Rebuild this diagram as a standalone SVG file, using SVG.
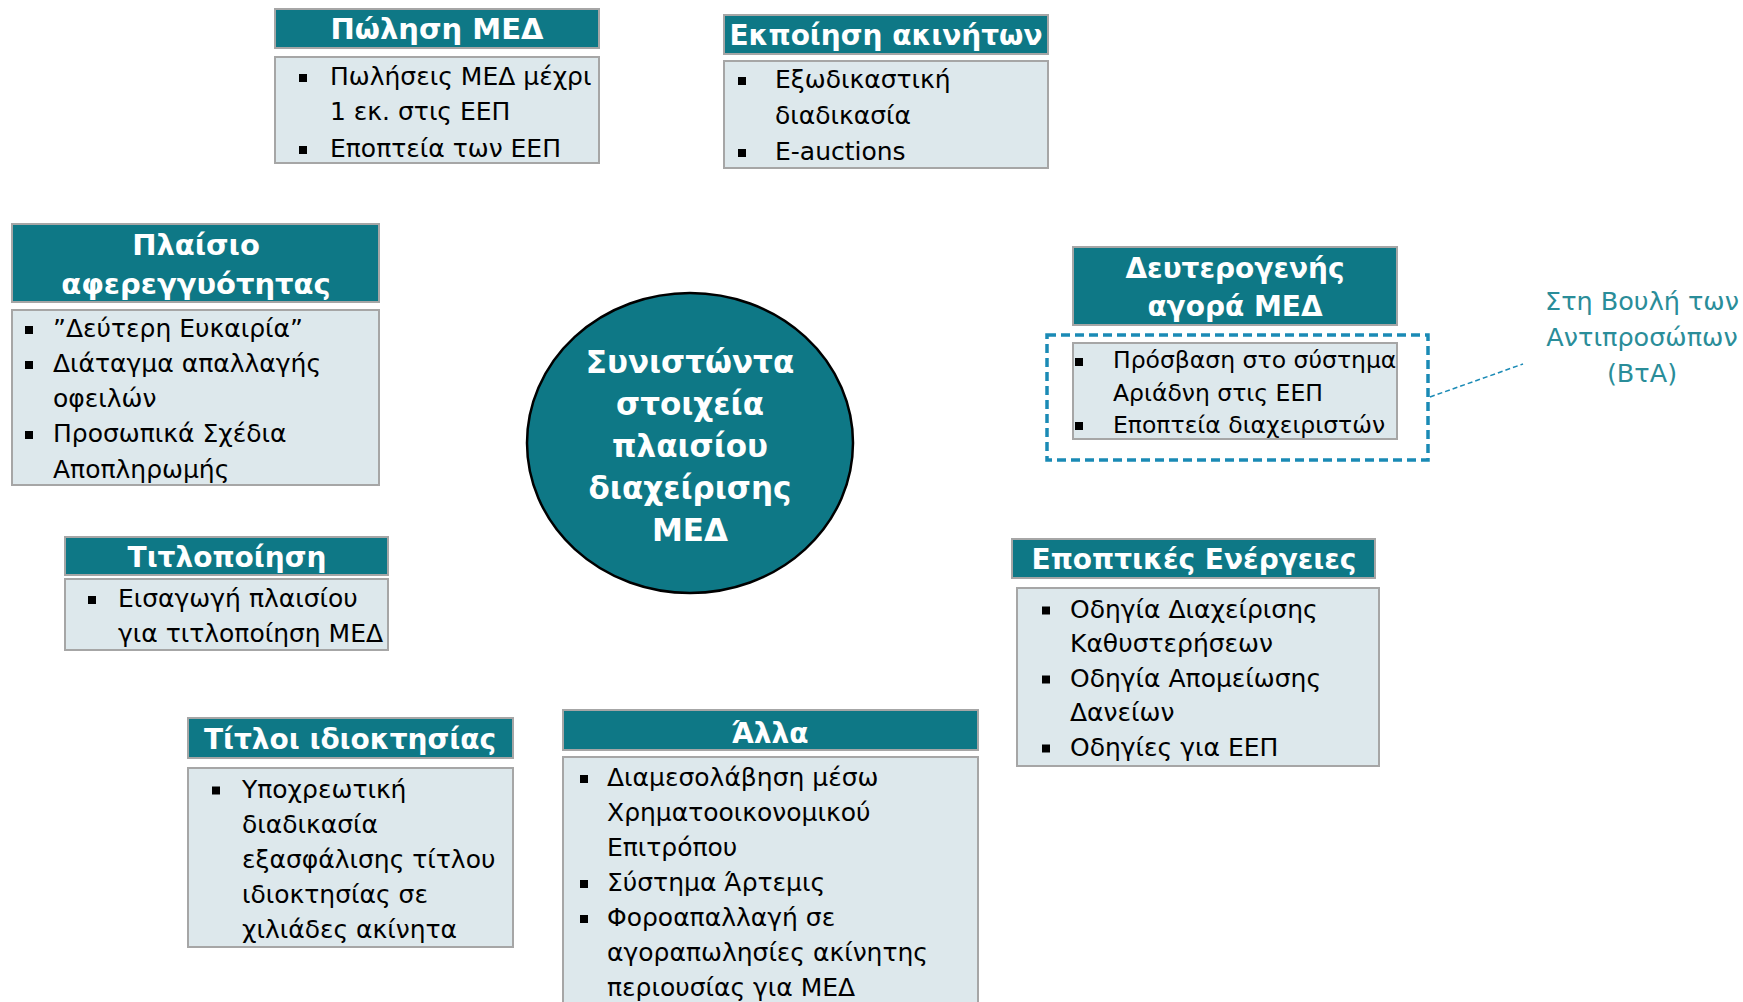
<svg xmlns="http://www.w3.org/2000/svg" width="1743" height="1002" viewBox="0 0 1743 1002">
<style>
.tb{fill:#0e7886;stroke:#a6a6a6;stroke-width:2}
.bb{fill:#dde8ec;stroke:#a6a6a6;stroke-width:2}
.tt{font-family:"DejaVu Sans",sans-serif;font-weight:bold;fill:#ffffff;font-size:28px;text-anchor:middle}
.tl{font-size:29px}
.bt{font-family:"DejaVu Sans",sans-serif;font-size:25px;fill:#000000}
.st{font-size:23.5px}
.ct{font-family:"DejaVu Sans",sans-serif;font-weight:bold;fill:#ffffff;font-size:31px;text-anchor:middle}
.cl{font-family:"DejaVu Sans",sans-serif;font-size:25.5px;fill:#2a8d99;text-anchor:middle}
.bu{fill:#000000}
</style>
<rect width="1743" height="1002" fill="#ffffff"/>

<g id="connectors">
<line x1="1430" y1="397" x2="1523" y2="364" stroke="#1a8ab5" stroke-width="1.5" stroke-dasharray="5,3"/>
</g>

<g id="center">
<ellipse cx="690" cy="443" rx="163" ry="150" fill="#0e7886" stroke="#000000" stroke-width="2.5"/>
<text class="ct" x="690" y="373">Συνιστώντα</text>
<text class="ct" x="690" y="415">στοιχεία</text>
<text class="ct" x="690" y="457">πλαισίου</text>
<text class="ct" x="690" y="499">διαχείρισης</text>
<text class="ct" x="690" y="541">ΜΕΔ</text>
</g>

<g id="polisi">
<rect class="tb" x="275" y="9" width="324" height="39"/>
<text class="tt tl" x="437" y="39">Πώληση ΜΕΔ</text>
<rect class="bb" x="275" y="57" width="324" height="106"/>
<rect class="bu" x="299" y="74" width="8" height="8"/>
<rect class="bu" x="299" y="146" width="8" height="8"/>
<text class="bt" x="330" y="85">Πωλήσεις ΜΕΔ μέχρι</text>
<text class="bt" x="330" y="120">1 εκ. στις ΕΕΠ</text>
<text class="bt" x="330" y="157">Εποπτεία των ΕΕΠ</text>
</g>

<g id="ekpoiisi">
<rect class="tb" x="724" y="15" width="324" height="39"/>
<text class="tt" x="886" y="45">Εκποίηση ακινήτων</text>
<rect class="bb" x="724" y="61" width="324" height="107"/>
<rect class="bu" x="738" y="77" width="8" height="8"/>
<rect class="bu" x="738" y="149" width="8" height="8"/>
<text class="bt" x="775" y="88">Εξωδικαστική</text>
<text class="bt" x="775" y="124">διαδικασία</text>
<text class="bt" x="775" y="160">E-auctions</text>
</g>

<g id="afereggyotita">
<rect class="tb" x="12" y="224" width="367" height="78"/>
<text class="tt tl" x="196" y="255">Πλαίσιο</text>
<text class="tt tl" x="196" y="294">αφερεγγυότητας</text>
<rect class="bb" x="12" y="310" width="367" height="175"/>
<rect class="bu" x="25" y="326" width="8" height="8"/>
<rect class="bu" x="25" y="361" width="8" height="8"/>
<rect class="bu" x="25" y="431" width="8" height="8"/>
<text class="bt" x="53" y="337">”Δεύτερη Ευκαιρία”</text>
<text class="bt" x="53" y="372">Διάταγμα απαλλαγής</text>
<text class="bt" x="53" y="407">οφειλών</text>
<text class="bt" x="53" y="442">Προσωπικά Σχέδια</text>
<text class="bt" x="53" y="478">Αποπληρωμής</text>
</g>

<g id="deuterogenis">
<rect class="tb" x="1073" y="247" width="324" height="78"/>
<text class="tt" x="1235" y="278">Δευτερογενής</text>
<text class="tt" x="1235" y="316">αγορά ΜΕΔ</text>
<rect x="1047" y="335" width="381" height="125" fill="none" stroke="#1a8ab5" stroke-width="3.5" stroke-dasharray="9,5"/>
<rect class="bb" x="1073" y="343" width="324" height="96"/>
<rect class="bu" x="1075" y="358" width="8" height="8"/>
<rect class="bu" x="1075" y="422" width="8" height="8"/>
<text class="bt st" x="1113" y="368">Πρόσβαση στο σύστημα</text>
<text class="bt st" x="1113" y="401">Αριάδνη στις ΕΕΠ</text>
<text class="bt st" x="1113" y="433">Εποπτεία διαχειριστών</text>
</g>

<g id="vouli">
<text class="cl" x="1642" y="310">Στη Βουλή των</text>
<text class="cl" x="1642" y="345.5">Αντιπροσώπων</text>
<text class="cl" x="1642" y="381.5">(ΒτΑ)</text>
</g>

<g id="titlopoiisi">
<rect class="tb" x="65" y="537" width="323" height="38"/>
<text class="tt" x="227" y="567">Τιτλοποίηση</text>
<rect class="bb" x="65" y="579" width="323" height="71"/>
<rect class="bu" x="88" y="596" width="8" height="8"/>
<text class="bt" x="118" y="607">Εισαγωγή πλαισίου</text>
<text class="bt" x="118" y="642">για τιτλοποίηση ΜΕΔ</text>
</g>

<g id="epoptikes">
<rect class="tb" x="1012" y="539" width="363" height="39"/>
<text class="tt" x="1194" y="569">Εποπτικές Ενέργειες</text>
<rect class="bb" x="1017" y="588" width="362" height="178"/>
<rect class="bu" x="1042" y="606.5" width="8" height="8"/>
<rect class="bu" x="1042" y="675.5" width="8" height="8"/>
<rect class="bu" x="1042" y="744.5" width="8" height="8"/>
<text class="bt" x="1070" y="617.5">Οδηγία Διαχείρισης</text>
<text class="bt" x="1070" y="652">Καθυστερήσεων</text>
<text class="bt" x="1070" y="686.5">Οδηγία Απομείωσης</text>
<text class="bt" x="1070" y="721">Δανείων</text>
<text class="bt" x="1070" y="755.5">Οδηγίες για ΕΕΠ</text>
</g>

<g id="titloi">
<rect class="tb" x="188" y="718" width="325" height="40"/>
<text class="tt" x="350" y="749">Τίτλοι ιδιοκτησίας</text>
<rect class="bb" x="188" y="768" width="325" height="179"/>
<rect class="bu" x="212" y="786.5" width="8" height="8"/>
<text class="bt" x="242" y="797.5">Υποχρεωτική</text>
<text class="bt" x="242" y="832.5">διαδικασία</text>
<text class="bt" x="242" y="867.5">εξασφάλισης τίτλου</text>
<text class="bt" x="242" y="902.5">ιδιοκτησίας σε</text>
<text class="bt" x="242" y="937.5">χιλιάδες ακίνητα</text>
</g>

<g id="alla">
<rect class="tb" x="563" y="710" width="415" height="40"/>
<text class="tt" x="770" y="743">Άλλα</text>
<rect class="bb" x="563" y="757" width="415" height="260"/>
<rect class="bu" x="580" y="775" width="8" height="8"/>
<rect class="bu" x="580" y="880" width="8" height="8"/>
<rect class="bu" x="580" y="915" width="8" height="8"/>
<text class="bt" x="607" y="786">Διαμεσολάβηση μέσω</text>
<text class="bt" x="607" y="821">Χρηματοοικονομικού</text>
<text class="bt" x="607" y="856">Επιτρόπου</text>
<text class="bt" x="607" y="891">Σύστημα Άρτεμις</text>
<text class="bt" x="607" y="926">Φοροαπαλλαγή σε</text>
<text class="bt" x="607" y="961">αγοραπωλησίες ακίνητης</text>
<text class="bt" x="607" y="996">περιουσίας για ΜΕΔ</text>
</g>
</svg>
